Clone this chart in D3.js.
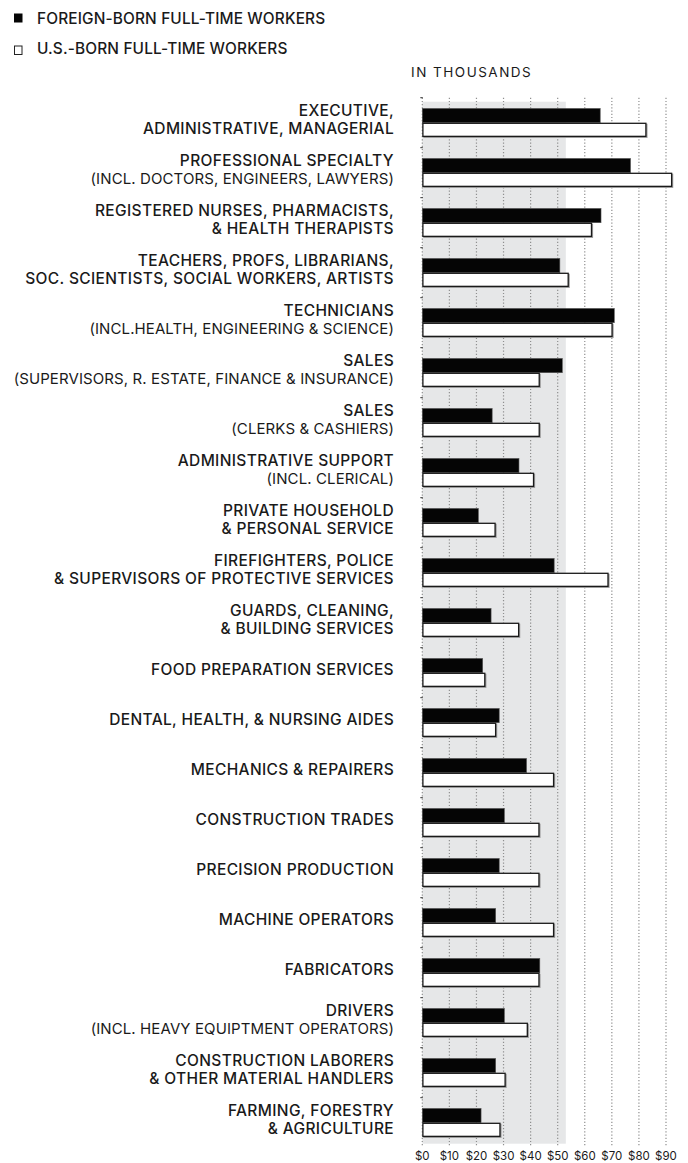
<!DOCTYPE html>
<html>
<head>
<meta charset="utf-8">
<script src="https://cdn.jsdelivr.net/npm/d3@7"></script>
<style>
  html, body { margin: 0; padding: 0; background: #fff; }
  svg { display: block; }
</style>
</head>
<body>
<div id="chart"></div>
<script>
// ─────────────────────────────────────────────────────────────
// Salaires médians, travailleurs à plein temps (en milliers $)
// ─────────────────────────────────────────────────────────────

// Catégories (une ligne par élément, les "(...)" en graisse normale)
const categories = [
  ['EXECUTIVE,', 'ADMINISTRATIVE, MANAGERIAL'],
  ['PROFESSIONAL SPECIALTY', '(INCL. DOCTORS, ENGINEERS, LAWYERS)'],
  ['REGISTERED NURSES, PHARMACISTS,', '& HEALTH THERAPISTS'],
  ['TEACHERS, PROFS, LIBRARIANS,', 'SOC. SCIENTISTS, SOCIAL WORKERS, ARTISTS'],
  ['TECHNICIANS', '(INCL.HEALTH, ENGINEERING & SCIENCE)'],
  ['SALES', '(SUPERVISORS, R. ESTATE, FINANCE & INSURANCE)'],
  ['SALES', '(CLERKS & CASHIERS)'],
  ['ADMINISTRATIVE SUPPORT', '(INCL. CLERICAL)'],
  ['PRIVATE HOUSEHOLD', '& PERSONAL SERVICE'],
  ['FIREFIGHTERS, POLICE', '& SUPERVISORS OF PROTECTIVE SERVICES'],
  ['GUARDS, CLEANING,', '& BUILDING SERVICES'],
  ['FOOD PREPARATION SERVICES'],
  ['DENTAL, HEALTH, & NURSING AIDES'],
  ['MECHANICS & REPAIRERS'],
  ['CONSTRUCTION TRADES'],
  ['PRECISION PRODUCTION'],
  ['MACHINE OPERATORS'],
  ['FABRICATORS'],
  ['DRIVERS', '(INCL. HEAVY EQUIPTMENT OPERATORS)'],
  ['CONSTRUCTION LABORERS', '& OTHER MATERIAL HANDLERS'],
  ['FARMING, FORESTRY', '& AGRICULTURE']
];

const foreignBorn = [65.7, 76.9, 66.0, 50.8, 70.9, 51.7, 25.8, 35.7, 20.7, 48.7, 25.4,
                     22.3, 28.4, 38.5, 30.3, 28.4, 27.1, 43.4, 30.3, 27.1, 21.7];
const usBorn      = [82.8, 92.3, 62.7, 54.1, 70.3, 43.4, 43.4, 41.3, 27.1, 68.8, 35.8,
                     23.3, 27.3, 48.7, 43.3, 43.3, 48.7, 43.3, 39.0, 30.8, 28.9];

const shadedUpTo = 53;                      // zone grise de fond
const tickValues = [0, 10, 20, 30, 40, 50, 60, 70, 80, 90];
const legendLabels = ['FOREIGN-BORN FULL-TIME WORKERS', 'U.S.-BORN FULL-TIME WORKERS'];
const unitLabel = 'IN THOUSANDS';

// ─── réglages ───
const W = 688, H = 1163;
const FONT = 'Inter, "Noto Sans", sans-serif';
const COL = { ink: '#1a1a1a', bar: '#050505', shade: '#e6e7e8', grid: '#8f8f8f' };

const svg = d3.select('#chart').append('svg')
  .attr('width', W).attr('height', H)
  .attr('viewBox', `0 0 ${W} ${H}`);

const x = d3.scaleLinear().domain([0, 90]).range([422.3, 666]);
const y = d3.scaleBand()
  .domain(d3.range(categories.length))
  .range([97.7, 1147.7])
  .paddingInner(0.43).paddingOuter(0.215);
const ySub = d3.scaleBand().domain(['foreign', 'us']).range([0, y.bandwidth()]);

const rows = categories.map((lines, i) => ({ i, lines, foreign: foreignBorn[i], us: usBorn[i] }));

// ─── zone grise ───
svg.append('rect')
  .attr('x', x(0)).attr('y', y.range()[0] + 4)
  .attr('width', x(shadedUpTo) - x(0))
  .attr('height', y.range()[1] - y.range()[0] - 8)
  .attr('fill', COL.shade);

// ─── grille pointillée ───
svg.append('g').selectAll('line')
  .data(tickValues).join('line')
  .attr('x1', d => x(d)).attr('x2', d => x(d))
  .attr('y1', y.range()[0]).attr('y2', y.range()[1] - 2)
  .attr('stroke', COL.grid)
  .attr('stroke-width', 1.2)
  .attr('stroke-dasharray', '1.2 2');

// petits repères à gauche entre les groupes
svg.append('g').selectAll('line')
  .data(d3.range(categories.length))
  .join('line')
  .attr('x1', x(0) - 2).attr('x2', x(0) + 0.5)
  .attr('y1', i => y(i) - y.step() * y.paddingOuter())
  .attr('y2', i => y(i) - y.step() * y.paddingOuter())
  .attr('stroke', '#333').attr('stroke-width', 1);

// ─── barres ───
const g = svg.append('g').selectAll('g')
  .data(rows).join('g')
  .attr('transform', d => `translate(0,${y(d.i)})`);

// ombre légère
g.append('rect')
  .attr('x', x(0) + 1).attr('y', ySub('us') + 1)
  .attr('width', d => x(d.us) - x(0))
  .attr('height', ySub.bandwidth())
  .attr('fill', '#9a9a9a');

g.append('rect')
  .attr('x', x(0)).attr('y', ySub('foreign'))
  .attr('width', d => x(d.foreign) - x(0))
  .attr('height', ySub.bandwidth())
  .attr('fill', COL.bar)
  .attr('stroke', '#555').attr('stroke-width', 0.6);

g.append('rect')
  .attr('x', x(0) + 0.6).attr('y', ySub('us') + 0.6)
  .attr('width', d => x(d.us) - x(0) - 1.2)
  .attr('height', ySub.bandwidth() - 1.2)
  .attr('fill', '#fff')
  .attr('stroke', COL.ink).attr('stroke-width', 1.3);

// ─── étiquettes de catégories ───
const LINE = 18;
svg.append('g').selectAll('text')
  .data(rows).join('text')
  .attr('text-anchor', 'end')
  .attr('font-family', FONT)
  .attr('fill', COL.ink)
  .each(function (d) {
    const cy = y(d.i) + y.bandwidth() / 2 - 3;
    const first = cy + 5.5 - (d.lines.length - 1) * LINE / 2;
    d3.select(this).selectAll('tspan')
      .data(d.lines).join('tspan')
      .attr('x', 394)
      .attr('y', (l, k) => first + k * LINE)
      .attr('font-size', l => l.startsWith('(') ? 15 : 15.5)
      .attr('font-weight', l => l.startsWith('(') ? 400 : 500)
      .attr('letter-spacing', l => l.startsWith('(') ? '0.1px' : '0.35px')
      .text(l => l);
  });

// ─── axe du bas ───
svg.append('g').selectAll('text')
  .data(tickValues).join('text')
  .attr('x', d => x(d)).attr('y', 1159.5)
  .attr('text-anchor', 'middle')
  .attr('font-family', FONT)
  .attr('font-size', 11.5)
  .attr('fill', COL.ink)
  .text(d => '$' + d);

// ─── légende ───
const leg = svg.append('g').selectAll('g')
  .data(legendLabels).join('g')
  .attr('transform', (d, i) => `translate(0,${i * 30})`);

leg.append('rect')
  .attr('x', (d, i) => i ? 14.5 : 14)
  .attr('y', (d, i) => i ? 16 : 13.5)
  .attr('width', (d, i) => i ? 7.5 : 8.5)
  .attr('height', (d, i) => i ? 8.5 : 9)
  .attr('fill', (d, i) => i ? '#fff' : COL.bar)
  .attr('stroke', (d, i) => i ? '#222' : 'none')
  .attr('stroke-width', 1);

leg.append('text')
  .attr('x', 37).attr('y', 23.5)
  .attr('font-family', FONT)
  .attr('font-size', 15.4)
  .attr('font-weight', 500)
  .attr('letter-spacing', '0.15px')
  .attr('fill', COL.ink)
  .text(d => d);

svg.append('text')
  .attr('x', 411).attr('y', 77)
  .attr('font-family', FONT)
  .attr('font-size', 13.5)
  .attr('letter-spacing', '1.5px')
  .attr('fill', COL.ink)
  .text(unitLabel);
</script>
</body>
</html>
